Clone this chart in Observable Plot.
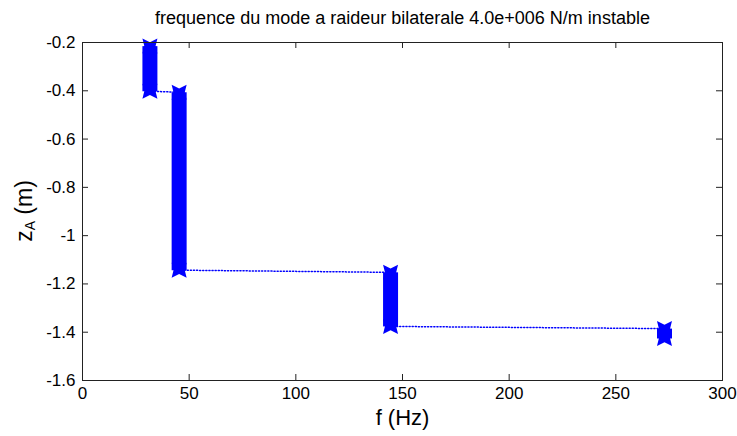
<!DOCTYPE html>
<html><head><meta charset="utf-8">
<script src="https://cdn.jsdelivr.net/npm/d3@7"></script>
<script src="https://cdn.jsdelivr.net/npm/@observablehq/plot@0.6"></script>
<style>
body{margin:0;background:#fff;}
svg{display:block;}
</style>
</head><body><div id="chart"></div>
<script>
const title = "frequence du mode a raideur bilaterale 4.0e+006 N/m instable";
const xLabel = "f (Hz)";
const yLabelMain = "z", yLabelSub = "A", yLabelUnit = " (m)";
// mode frequency clusters (Hz) and the z range (m) each one spans
const clusterF = [31.6, 45.3, 144.4, 272.8];
const clusterZTop = [-0.215, -0.406, -1.152, -1.385];
const clusterZBottom = [-0.402, -1.143, -1.376, -1.426];
const xTicks = [0, 50, 100, 150, 200, 250, 300];
const xTickLabels = ["0", "50", "100", "150", "200", "250", "300"];
const yTicks = [-1.6, -1.4, -1.2, -1, -0.8, -0.6, -0.4, -0.2];
const yTickLabels = ["-1.6", "-1.4", "-1.2", "-1", "-0.8", "-0.6", "-0.4", "-0.2"];

const clusters = clusterF.map((f, i) => ({f, z1: clusterZTop[i], z2: clusterZBottom[i]}));
const pathPts = clusters.flatMap(c => [{f: c.f, z: c.z1}, {f: c.f, z: c.z2}]);

const W = 737, H = 436;
const mL = 82, mR = 15, mT = 42, mB = 56;
const plotW = W - mL - mR, plotH = H - mT - mB;
const tick = 6;
const blue = "#0000ff";
const font = "'Liberation Sans', Arial, Helvetica, sans-serif";

// bold "x" marker drawn as a filled bow-tie outline
const fatX = {
  draw(ctx, size) {
    const a = Math.sqrt(size / Math.PI);
    const n = a * 0.5, s = a * 0.25;
    ctx.moveTo(-a, -a);
    ctx.lineTo(0, -a + n);
    ctx.lineTo(a, -a);
    ctx.lineTo(a - s, 0);
    ctx.lineTo(a, a);
    ctx.lineTo(0, a - n);
    ctx.lineTo(-a, a);
    ctx.lineTo(-a + s, 0);
    ctx.closePath();
  }
};

const chart = Plot.plot({
  width: W, height: H,
  marginLeft: mL, marginRight: mR, marginTop: mT, marginBottom: mB,
  style: {fontFamily: font, fontSize: "17px", color: "#000", background: "#fff", overflow: "visible"},
  x: {domain: [0, 300]},
  y: {domain: [-1.6, -0.2]},
  marks: [
    Plot.line(pathPts, {x: "f", y: "z", stroke: blue, strokeWidth: 1.5, strokeDasharray: "1.1,2"}),
    Plot.link(clusters, {x1: "f", x2: "f", y1: "z1", y2: "z2", stroke: blue, strokeWidth: 15, strokeLinecap: "butt"}),
    Plot.dot(pathPts, {x: "f", y: "z", symbol: fatX, r: 7.5, fill: blue, stroke: "none"}),
    Plot.frame({stroke: "#222", strokeWidth: 1}),
    Plot.tickX(xTicks, {x: d => d, insetTop: plotH - tick, stroke: "#222"}),
    Plot.tickX(xTicks, {x: d => d, insetBottom: plotH - tick, stroke: "#222"}),
    Plot.tickY(yTicks, {y: d => d, insetRight: plotW - tick, stroke: "#222"}),
    Plot.tickY(yTicks, {y: d => d, insetLeft: plotW - tick, stroke: "#222"}),
    Plot.axisX(xTicks, {tickSize: 0, tickPadding: 6, label: null, fontSize: 17,
      tickFormat: d => xTickLabels[xTicks.indexOf(d)]}),
    Plot.axisY(yTicks, {tickSize: 0, tickPadding: 7, label: null, fontSize: 17,
      tickFormat: d => yTickLabels[yTicks.indexOf(d)]}),
    Plot.text([title], {text: d => d, frameAnchor: "top", dy: -31, fontSize: 18}),
    Plot.text([xLabel], {text: d => d, frameAnchor: "bottom", dy: 44, fontSize: 22})
  ]
});
document.getElementById("chart").appendChild(chart);

// y-axis label with subscript
const svg = d3.select(chart);
const yl = svg.append("text")
  .attr("transform", `translate(26,${mT + plotH / 2}) rotate(-90)`)
  .attr("text-anchor", "middle")
  .attr("dominant-baseline", "middle")
  .attr("font-family", font)
  .attr("font-size", 23)
  .attr("fill", "#000");
yl.append("tspan").text(yLabelMain);
yl.append("tspan").attr("font-size", 14).attr("dy", 5).text(yLabelSub);
yl.append("tspan").attr("dy", -5).text(yLabelUnit);
</script>
</body></html>
